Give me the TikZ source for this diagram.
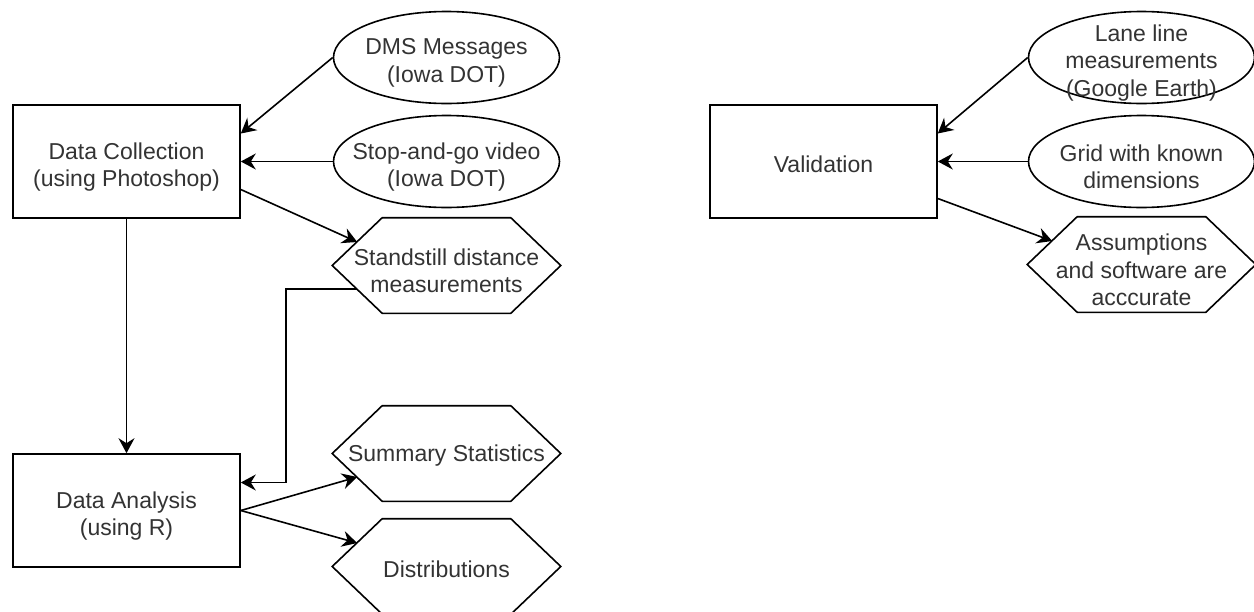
\documentclass[tikz,border=0pt]{standalone}
\usepackage{fontspec}
\setmainfont{Liberation Sans}
\usetikzlibrary{positioning,shapes.geometric,arrows.meta}
\begin{document}
\begin{tikzpicture}[line width=0.8pt, >={Stealth[length=7.5pt,width=8pt,inset=2.5pt]},
    font=\fontsize{11.5}{13.75}\selectfont,
    main/.style = {draw, rectangle, minimum width=113.5pt, minimum height=56.5pt},
    oval/.style = {draw, ellipse, minimum width=113pt, minimum height=46pt, inner sep=0pt},
    txt/.style = {align=center, inner sep=0pt, text=black!80, yshift=-2.75pt},
    one/.style = {txt, yshift=1.5pt},
    hex/.style = {rectangle, minimum width=113.5pt, minimum height=47pt, inner sep=0pt,
        append after command={\pgfextra{\draw ([xshift=25pt]\tikzlastnode.north west) -- ([xshift=-25pt]\tikzlastnode.north east) -- (\tikzlastnode.east) -- ([xshift=-25pt]\tikzlastnode.south east) -- ([xshift=25pt]\tikzlastnode.south west) -- (\tikzlastnode.west) -- cycle;}}}]
    \useasboundingbox (0,0) rectangle (627pt,-305.5pt);
    \node[main, label={[txt]center:Data Collection\\(using Photoshop)}] (1) at (63.25pt,-80.75pt) {};
    \node[main, label={[txt]center:Data Analysis\\(using R)}] (2) [below of=1, node distance=174.5pt] {};
    \node[oval, label={[txt]center:Stop-and-go video\\(Iowa DOT)}] (4) [right of=1, node distance=160pt] {};
    \node[oval, label={[txt]center:DMS Messages\\(Iowa DOT)}] (3) [above of=4, node distance=52pt] {};
    \node[hex, label={[txt]center:Standstill distance\\measurements}] (5) [below of=4, node distance=52pt] {};
    \node[hex, label={[one]center:Summary Statistics}] (6) [below of=5, node distance=94pt] {};
    \node[hex, label={[one]center:Distributions}] (7) [below of=6, node distance=56.5pt] {};
    \node[main, label={[one]center:Validation}] (8) [right of=1, node distance=348.5pt] {};
    \node[oval, label={[txt]center:Grid with known\\dimensions}] (10) [right of=8, node distance=159pt] {};
    \node[oval, label={[txt]center:Lane line\\measurements\\(Google Earth)}] (9) [above of=10, node distance=52pt] {};
    \node[hex, label={[txt]center:Assumptions\\and software are\\acccurate}] (11) [below of=10, node distance=51.5pt] {};
    % left part
    \draw[->] (3.west) -- ([yshift=14pt]1.east);
    \draw[->] (4.west) -- (1.east);
    \draw[->] ([yshift=-14pt]1.east) -- ([shift={(12.5pt,11.75pt)}]5.west);
    \draw[->] (1.south) -- (2.north);
    \draw[->] ([shift={(12.5pt,-11.75pt)}]5.west) -- ++(-35.5pt,0) |- ([yshift=14pt]2.east);
    \draw[->] (2.east) -- ([shift={(12.5pt,-11.75pt)}]6.west);
    \draw[->] (2.east) -- ([shift={(12.5pt,11.75pt)}]7.west);
    % right part
    \draw[->] (9.west) -- ([yshift=14pt]8.east);
    \draw[->] (10.west) -- (8.east);
    \draw[->] ([yshift=-18.5pt]8.east) -- ([shift={(12.5pt,11.75pt)}]11.west);
\end{tikzpicture}
\end{document}
